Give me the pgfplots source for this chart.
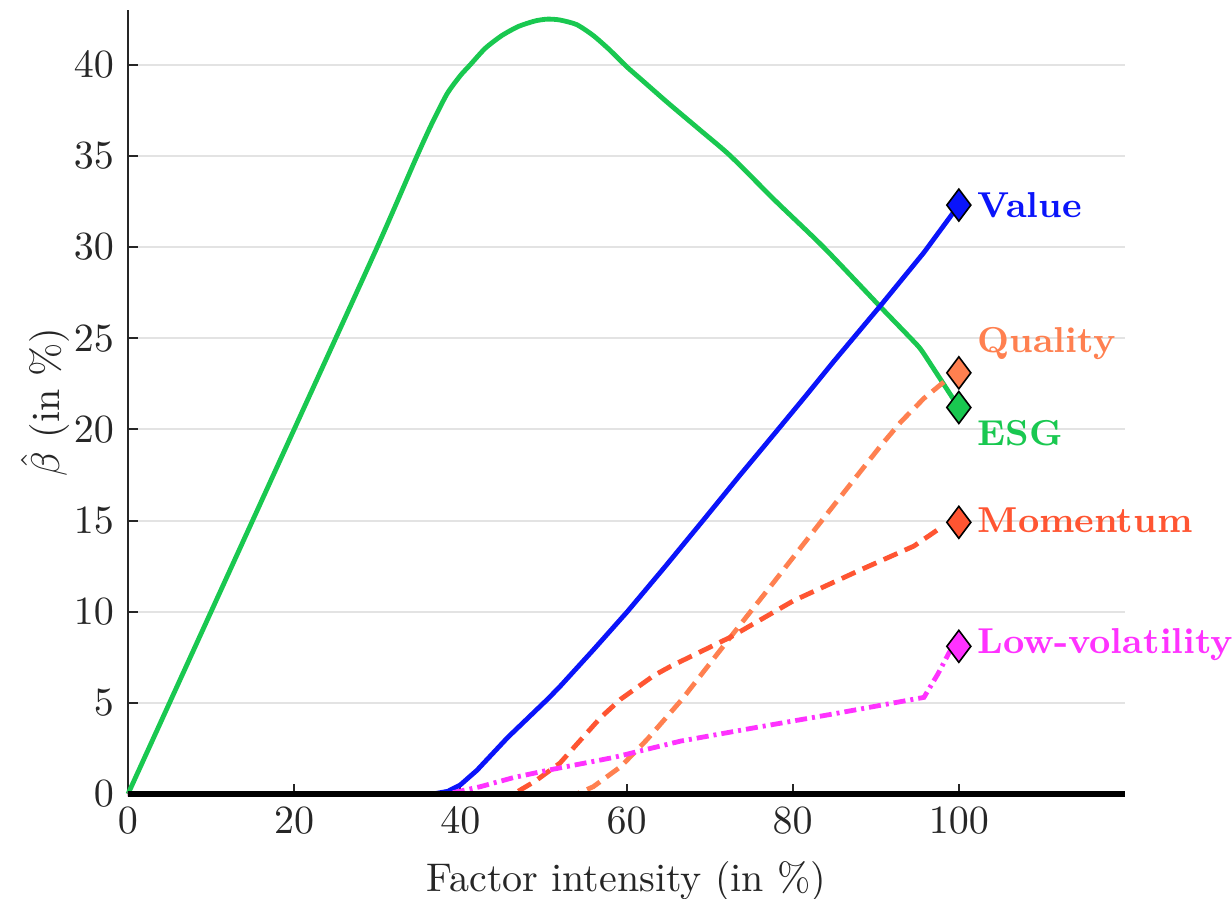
\documentclass[border=0pt]{standalone}
\usepackage{pgfplots}
\pgfplotsset{compat=1.18}
\definecolor{valuecol}{RGB}{10,20,250}
\definecolor{esgcol}{RGB}{25,200,80}
\definecolor{qualcol}{RGB}{255,128,80}
\definecolor{momcol}{RGB}{255,85,50}
\definecolor{lvcol}{RGB}{255,50,255}
\definecolor{axgray}{RGB}{38,38,38}
\begin{document}
\begin{tikzpicture}
\useasboundingbox (-32pt,-26.25pt) rectangle (276pt,198.5pt);
\begin{axis}[
  scale only axis,
  width=249.25pt, height=196pt,
  xmin=0, xmax=120, ymin=0, ymax=43,
  axis lines=left,
  axis line style={-, axgray, line width=0.5pt},
  tick align=inside,
  major tick length=2.5pt,
  tick style={axgray, line width=0.5pt},
  xtick={0,20,40,60,80,100},
  ytick={0,5,10,15,20,25,30,35,40},
  ymajorgrids,
  grid style={gray!22, line width=0.5pt},
  ticklabel style={text=axgray},
  xlabel={Factor intensity (in \%)},
  ylabel={$\hat{\beta}$ (in \%)},
  ylabel style={at={(axis description cs:-0.0833,0.5)}, anchor=center},
  label style={text=axgray},
  clip=false,
]
% ESG
\addplot[esgcol, line width=1.2pt, smooth, tension=0.4] coordinates {
(0,0)(10,10)(20,20)(30,30)(34.6,34.8)(36.5,36.7)(38.4,38.4)(40,39.4)(41.2,40)(43,40.9)(45,41.6)(47,42.1)(49,42.4)(50.5,42.5)(52,42.45)(54,42.2)(56,41.6)(58,40.8)(60,39.9)(62,39.1)(65,37.9)(68.9,36.4)(72.5,35)(78,32.5)(83.7,30)(90.6,26.7)(94.2,25)(95.4,24.4)(97,23.3)(100,21.2)
};
% Value
\addplot[valuecol, line width=1.2pt] coordinates {
(0,0)(36.7,0)(38.5,0.15)(40,0.5)(42,1.3)(45.7,3.1)(50.5,5.2)(52,5.9)(56,7.9)(60.1,10)(64.7,12.5)(69.3,15.05)(73.5,17.4)(77.7,19.7)(81.6,21.85)(84.9,23.7)(90.6,26.8)(95.8,29.7)(100,32.3)
};
% Quality
\addplot[qualcol, line width=1.2pt, dash pattern=on 3.75pt off 2pt] coordinates {
(0,0)(54,0)(56,0.4)(59.3,1.5)(62.5,3.0)(66.7,5.2)(72.5,8.6)(77.7,11.6)(84.2,15.4)(88,17.6)(90.6,19.1)(93,20.4)(95.8,21.7)(98.2,22.6)
};
% Momentum
\addplot[momcol, line width=1.2pt, dash pattern=on 3.75pt off 2pt] coordinates {
(0,0)(46.4,0)(49,0.7)(52,1.7)(56.9,4.2)(59.3,5.2)(63.3,6.5)(65.3,7.0)(72.5,8.6)(80.1,10.6)(88.2,12.3)(94.6,13.6)(97.8,14.6)
};
% Low-volatility
\addplot[lvcol, line width=1.2pt, dash pattern=on 3pt off 1.25pt on 0.75pt off 1.25pt] coordinates {
(0,0)(38.4,0)(42.4,0.4)(46.4,0.9)(50.5,1.3)(58.4,2.0)(66.5,2.9)(75,3.6)(85,4.4)(95.8,5.3)(97.5,6.6)(99,7.9)
};
% axis zero line
\addplot[black, line width=1.3pt] coordinates {(0,0) (120,0)};
% end markers
\addplot[only marks, mark=diamond*, mark size=4pt, mark options={fill=valuecol, draw=black, line width=0.4pt}] coordinates {(100,32.3)};
\addplot[only marks, mark=diamond*, mark size=4pt, mark options={fill=qualcol, draw=black, line width=0.4pt}] coordinates {(100,23.1)};
\addplot[only marks, mark=diamond*, mark size=4pt, mark options={fill=esgcol, draw=black, line width=0.4pt}] coordinates {(100,21.2)};
\addplot[only marks, mark=diamond*, mark size=4pt, mark options={fill=momcol, draw=black, line width=0.4pt}] coordinates {(100,14.9)};
\addplot[only marks, mark=diamond*, mark size=4pt, mark options={fill=lvcol, draw=black, line width=0.4pt}] coordinates {(100,8.1)};
% labels
\node[anchor=west, text=valuecol, font=\small\bfseries, inner sep=0pt, xshift=4.5pt] at (axis cs:100,32.3) {Value};
\node[anchor=west, text=qualcol, font=\small\bfseries, inner sep=0pt, xshift=4.5pt] at (axis cs:100,24.7) {Quality};
\node[anchor=west, text=esgcol, font=\small\bfseries, inner sep=0pt, xshift=4.5pt] at (axis cs:100,19.8) {ESG};
\node[anchor=west, text=momcol, font=\small\bfseries, inner sep=0pt, xshift=4.5pt] at (axis cs:100,15.0) {Momentum};
\node[anchor=west, text=lvcol, font=\small\bfseries, inner sep=0pt, xshift=4.5pt] at (axis cs:100,8.2) {Low-volatility};
\end{axis}
\end{tikzpicture}
\end{document}
